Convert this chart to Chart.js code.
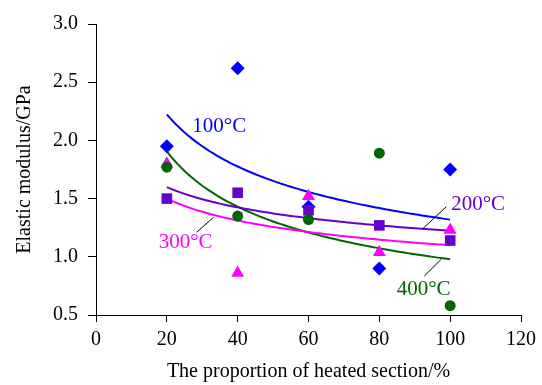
<!DOCTYPE html>
<html>
<head>
<meta charset="utf-8">
<script src="https://cdn.jsdelivr.net/npm/chart.js@4"></script>
<style>
  html, body { margin: 0; padding: 0; background: #fff; }
  #wrap { width: 542px; height: 385px; }
</style>
</head>
<body>
<div id="wrap"><canvas id="modulusChart"></canvas></div>
<script>
// proportion of heated section (%)
var proportion = [20, 40, 60, 80, 100];

// elastic modulus (GPa) for each heating temperature
var e100 = [1.95, 2.62, 1.43, 0.90, 1.75];
var e200 = [1.50, 1.55, 1.40, 1.27, 1.14];
var e300 = [1.80, 0.86, 1.52, 1.04, 1.23];
var e400 = [1.77, 1.35, 1.32, 1.89, 0.58];

var yTicks = [0.5, 1.0, 1.5, 2.0, 2.5, 3.0];
var xTicks = [0, 20, 40, 60, 80, 100, 120];

var seriesNames = ['100°C', '200°C', '300°C', '400°C'];
var seriesColors = ['#0000ff', '#6600cc', '#ff00ff', '#006600'];
var pointStyles = ['rectRot', 'rect', 'triangle', 'circle'];
var pointSizes = [7, 7.5, 7.5, 5.5];

var FONT = "'Liberation Serif', 'Times New Roman', serif";

// power trendline y = a * x^b, least squares on logs
function powerFit(xs, ys) {
  var n = xs.length, sx = 0, sy = 0, sxx = 0, sxy = 0;
  for (var i = 0; i < n; i++) {
    var lx = Math.log(xs[i]), ly = Math.log(ys[i]);
    sx += lx; sy += ly; sxx += lx * lx; sxy += lx * ly;
  }
  var b = (n * sxy - sx * sy) / (n * sxx - sx * sx);
  var a = Math.exp((sy - b * sx) / n);
  return function (x) { return a * Math.pow(x, b); };
}

function pairs(xs, ys) {
  var out = [];
  for (var i = 0; i < xs.length; i++) out.push({x: xs[i], y: ys[i]});
  return out;
}

function trendPoints(xs, ys) {
  var f = powerFit(xs, ys);
  var out = [];
  for (var x = xs[0]; x <= xs[xs.length - 1]; x += 1) out.push({x: x, y: f(x)});
  return out;
}

var values = [e100, e200, e300, e400];
var datasets = [];

for (var i = 0; i < values.length; i++) {
  datasets.push({
    label: seriesNames[i] + ' fit',
    data: trendPoints(proportion, values[i]),
    showLine: true,
    borderColor: seriesColors[i],
    borderWidth: 2,
    pointRadius: 0,
    order: 10
  });
}
for (var i = 0; i < values.length; i++) {
  datasets.push({
    label: seriesNames[i],
    data: pairs(proportion, values[i]),
    showLine: false,
    pointStyle: pointStyles[i],
    pointRadius: pointSizes[i],
    backgroundColor: seriesColors[i],
    borderColor: seriesColors[i],
    borderWidth: 0,
    order: 4 - i
  });
}

// series labels, placed in data units; leader = [x1, y1, x2, y2] or null
var seriesLabels = [
  {text: '100°C', x: 34.8, y: 2.12, color: seriesColors[0], leader: null},
  {text: '200°C', x: 107.9, y: 1.45, color: seriesColors[1], leader: [98.9, 1.43, 92.2, 1.24]},
  {text: '300°C', x: 25.3, y: 1.12, color: seriesColors[2], leader: [33.2, 1.34, 28.4, 1.21]},
  {text: '400°C', x: 92.5, y: 0.715, color: seriesColors[3], leader: [97.5, 0.98, 92.7, 0.835]}
];

var labelPlugin = {
  id: 'seriesLabels',
  afterDatasetsDraw: function (chart) {
    var ctx = chart.ctx, xs = chart.scales.x, ys = chart.scales.y;
    ctx.save();
    seriesLabels.forEach(function (l) {
      if (l.leader) {
        ctx.strokeStyle = '#000';
        ctx.lineWidth = 1;
        ctx.beginPath();
        ctx.moveTo(xs.getPixelForValue(l.leader[0]), ys.getPixelForValue(l.leader[1]));
        ctx.lineTo(xs.getPixelForValue(l.leader[2]), ys.getPixelForValue(l.leader[3]));
        ctx.stroke();
      }
      ctx.fillStyle = l.color;
      ctx.font = '21px ' + FONT;
      ctx.textAlign = 'center';
      ctx.textBaseline = 'middle';
      ctx.fillText(l.text, xs.getPixelForValue(l.x), ys.getPixelForValue(l.y));
    });
    ctx.restore();
  }
};

new Chart(document.getElementById('modulusChart'), {
  type: 'scatter',
  data: {datasets: datasets},
  options: {
    responsive: true,
    maintainAspectRatio: false,
    animation: false,
    layout: {padding: {top: 24, right: 19, left: 0, bottom: 0}},
    plugins: {legend: {display: false}, tooltip: {enabled: false}},
    scales: {
      x: {
        type: 'linear',
        min: 0, max: 120,
        afterBuildTicks: function (axis) { axis.ticks = xTicks.map(function (v) { return {value: v}; }); },
        afterFit: function (axis) { axis.height = 70; },
        grid: {drawOnChartArea: false, tickLength: 7, color: '#000', tickColor: '#000'},
        border: {color: '#000', width: 1},
        ticks: {color: '#000', padding: 6, maxRotation: 0, font: {family: FONT, size: 20}},
        title: {display: true, text: 'The proportion of heated section/%', color: '#000',
                font: {family: FONT, size: 20}, padding: {top: 0, bottom: 1}}
      },
      y: {
        type: 'linear',
        min: 0.5, max: 3.0,
        afterBuildTicks: function (axis) { axis.ticks = yTicks.map(function (v) { return {value: v}; }); },
        afterFit: function (axis) { axis.width = 96; },
        grid: {drawOnChartArea: false, tickLength: 8, color: '#000', tickColor: '#000'},
        border: {color: '#000', width: 1},
        ticks: {color: '#000', padding: 10, font: {family: FONT, size: 20},
                callback: function (v) { return v.toFixed(1); }},
        title: {display: true, text: 'Elastic modulus/GPa', color: '#000',
                font: {family: FONT, size: 20}, padding: {top: 13, bottom: 0}}
      }
    }
  },
  plugins: [labelPlugin]
});
</script>
</body>
</html>
